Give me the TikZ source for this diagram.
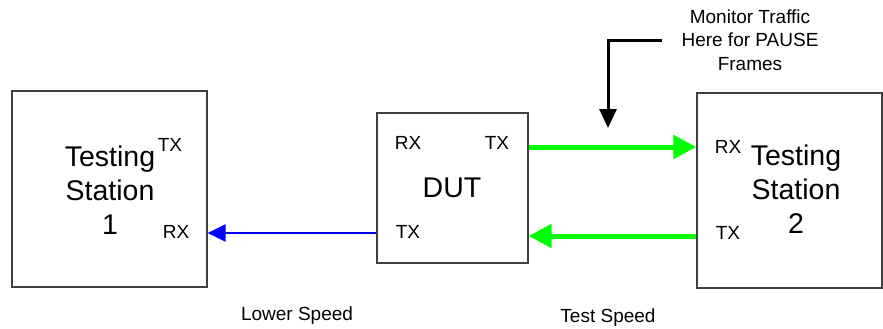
\documentclass[tikz,border=0pt]{standalone}
\usepackage{fontspec}
\setmainfont{Liberation Sans}
\usetikzlibrary{arrows.meta}
\begin{document}
\begin{tikzpicture}[x=1pt,y=-1pt,
  box/.style={draw=black!75,line width=1.2pt,minimum width=#1,inner sep=0pt},
  big/.style={font=\fontsize{28.5}{34}\selectfont,align=center,inner sep=0pt},
  small/.style={font=\fontsize{19}{23.5}\selectfont,align=center,inner sep=0pt},
  greenarr/.style={draw={rgb,255:red,0;green,255;blue,0},line width=5pt,-{Triangle[length=23pt,width=23pt]},fill={rgb,255:red,0;green,255;blue,0}},
  bluearr/.style={draw={rgb,255:red,0;green,0;blue,255},line width=2.3pt,-{Triangle[length=18pt,width=17pt]}},
  blackarr/.style={draw=black,line width=3pt,-{Triangle[length=19pt,width=17pt]}}
]
\useasboundingbox (0,0) rectangle (883,329);
\node[box=195pt,minimum height=196pt] (st1) at (109.5,189) {};
\node[box=151pt,minimum height=150pt] (dut) at (452.5,188) {};
\node[box=185pt,minimum height=195pt] (st2) at (789.5,190.5) {};

\node[big] (t1) at (110,190) {Testing\\Station\\1};
\node[small] (t1tx) at (170,145) {TX};
\node[small] (t1rx) at (176,232) {RX};

\node[small] (drx) at (408,143) {RX};
\node[small] (dtx) at (497,143) {TX};
\node[big] (dlab) at (452,188) {DUT};
\node[small] (dtx2) at (408,232) {TX};

\node[big] (t2) at (796,189) {Testing\\Station\\2};
\node[small] (t2rx) at (728,147) {RX};
\node[small] (t2tx) at (728,233) {TX};

\node[small] (mon) at (750,40) {Monitor Traffic\\Here for PAUSE\\Frames};
\node[small] (low) at (297,316) {Lower Speed};
\node[small] (test) at (608,318) {Test Speed};

\coordinate (mstart) at (662,41);
\coordinate (mend) at (608,128);

\draw[greenarr] (dut.east |- 0,147) -- (st2.west |- 0,147);
\draw[greenarr] (st2.west |- 0,236) -- (dut.east |- 0,236);
\draw[bluearr] (dut.west |- 0,233) -- (st1.east |- 0,233);
\draw[blackarr] (mstart) -| (mend);
\end{tikzpicture}
\end{document}
